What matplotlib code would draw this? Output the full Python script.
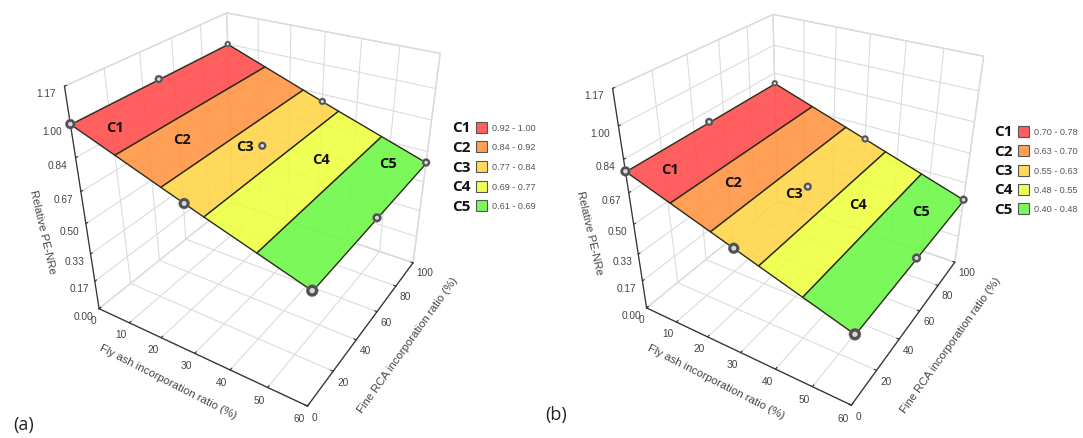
import numpy as np, matplotlib
matplotlib.use('Agg')
import matplotlib.pyplot as plt
from matplotlib.colors import to_rgb
from matplotlib.patches import Rectangle
from mpl_toolkits.mplot3d.art3d import Poly3DCollection

# ---------- data ----------
fly_ash_ticks = [0, 10, 20, 30, 40, 50, 60]
rca_ticks = [0, 20, 40, 60, 80, 100]
pe_ticks = [0.00, 0.17, 0.33, 0.50, 0.67, 0.84, 1.00, 1.17]
pe_tick_labels = ['0.00', '0.17', '0.33', '0.50', '0.67', '0.84', '1.00', '1.17']
point_fly_ash = [0, 30, 60]
point_rca = [0, 50, 100]
pe_a = [1.00, 0.80, 0.61]
pe_b = [0.78, 0.59, 0.40]
class_names = ['C1', 'C2', 'C3', 'C4', 'C5']
bounds_a = [1.00, 0.92, 0.84, 0.77, 0.69, 0.61]
bounds_b = [0.78, 0.70, 0.63, 0.55, 0.48, 0.40]
ranges_a = ['0.92 - 1.00', '0.84 - 0.92', '0.77 - 0.84', '0.69 - 0.77', '0.61 - 0.69']
ranges_b = ['0.70 - 0.78', '0.63 - 0.70', '0.55 - 0.63', '0.48 - 0.55', '0.40 - 0.48']

# ---------- style ----------
class_colors = ['#FF5F5F', '#FFA055', '#FFD95A', '#EFFF55', '#7CF95A']
surface_alpha = 0.88
marker_radius = [[5, 4, 3], [5.5, 4, 3.5], [6, 4.5, 4]]
FW, FH = 1083, 439
TXT = '#444444'
plt.rcParams['font.family'] = ['Liberation Sans', 'DejaVu Sans']
fig = plt.figure(figsize=(FW / 100, FH / 100), dpi=100)


def see_through(col):
    """Colour that, drawn with surface_alpha over white, gives col."""
    c = (np.array(to_rgb(col)) - (1 - surface_alpha)) / surface_alpha
    return (*np.clip(c, 0, 1), surface_alpha)


def panel(z_pts, bounds, ranges, view, box, class_xy, label_xy, leg, tag, tag_xy):
    left, bottom, size = box
    ax = fig.add_axes([left / FW, (FH - bottom) / FH, size / FW, size / FH], projection='3d')
    ax.patch.set_visible(False)
    ax.computed_zorder = False
    ax.set_xlim(0, 60, view_margin=0)
    ax.set_ylim(0, 100, view_margin=0)
    ax.set_zlim(0, 1.17, view_margin=0)
    ax.view_init(elev=view[0], azim=view[1], roll=view[2])
    ax.set_proj_type('persp', focal_length=view[3])
    ax.set_box_aspect((1, view[4], view[5]))
    ax.set_xticks(fly_ash_ticks)
    ax.set_yticks(rca_ticks)
    ax.set_zticks(pe_ticks)
    ax.set_zticklabels(pe_tick_labels)
    ax.zaxis.set_ticks_position('lower')
    for axis in (ax.xaxis, ax.yaxis, ax.zaxis):
        axis.set_pane_color((1, 1, 1, 1))
        axis.pane.set_edgecolor('#d5d5d5')
        axis._axinfo['grid'].update(color='#dcdcdc', linewidth=0.8)
        axis._axinfo['tick'].update(inward_factor=0.0, outward_factor=0.12, linewidth={True: 0.8, False: 0.6})
        axis.line.set_color('#333333')
        axis.line.set_linewidth(0.9)
    ax.tick_params(axis='x', labelsize=7.3, labelcolor=TXT, color='#333333', pad=-5)
    ax.tick_params(axis='y', labelsize=7.3, labelcolor=TXT, color='#333333', pad=-5)
    ax.tick_params(axis='z', labelsize=7.3, labelcolor=TXT, color='#333333', pad=-1)
    for lab in ax.get_xticklabels():
        lab.set_ha('right')
    for lab in ax.get_yticklabels():
        lab.set_ha('left')

    # axis titles
    for txt, (px, py), rot in zip(['Fly ash incorporation ratio (%)', 'Fine RCA incorporation ratio (%)', 'Relative PE-NRe'],
                                  label_xy, (-27, 54.4, -77)):
        fig.text(px / FW, 1 - py / FH, txt, fontsize=8.2, color=TXT, rotation=rot,
                 ha='center', va='center', rotation_mode='anchor')

    # surface bands: the plane runs linearly along fly ash, class limits give the band edges
    edge_x = np.interp(bounds[::-1], z_pts[::-1], point_fly_ash[::-1])[::-1]
    y0, y1 = point_rca[0], point_rca[-1]
    for i, col in enumerate(class_colors):
        xa, xb, za, zb = edge_x[i], edge_x[i + 1], bounds[i], bounds[i + 1]
        poly = Poly3DCollection([[(xa, y0, za), (xb, y0, zb), (xb, y1, zb), (xa, y1, za)]],
                                facecolors=[see_through(col)], edgecolors='#2c2c1c', linewidths=1.0,
                                zorder=3 + i * 0.01)
        ax.add_collection3d(poly)

    # measured points
    X, Y = np.meshgrid(point_fly_ash, point_rca, indexing='ij')
    Z = np.repeat(np.array(z_pts)[:, None], len(point_rca), axis=1)
    rad = np.array(marker_radius)
    ax.scatter(X.ravel(), Y.ravel(), Z.ravel(), s=(2 * rad.ravel() * 0.72) ** 2, c='#505050',
               edgecolors='#808080', linewidths=0.3, depthshade=False, zorder=5)
    ax.scatter(X.ravel(), Y.ravel(), Z.ravel(), s=(0.9 * rad.ravel() * 0.72) ** 2, c='#d8d8d8',
               linewidths=0, depthshade=False, zorder=6)

    # class names on the surface
    for name, (px, py) in zip(class_names, class_xy):
        fig.text(px / FW, 1 - py / FH, name, family='Open Sans', weight='bold', fontsize=10.5,
                 ha='center', va='center', color='#111111', zorder=10)
    # legend
    lx, sx, tx, ly, dy = leg
    for i, (name, col, rng) in enumerate(zip(class_names, class_colors, ranges)):
        y = ly + i * dy
        fig.text(lx / FW, 1 - y / FH, name, family='Open Sans', weight='bold', fontsize=11,
                 ha='left', va='center', color='#111111')
        fig.add_artist(Rectangle((sx / FW, 1 - (y + 5.5) / FH), 11 / FW, 11 / FH, transform=fig.transFigure,
                                 facecolor=col, edgecolor='#555555', linewidth=0.8))
        fig.text(tx / FW, 1 - y / FH, rng, fontsize=6.6, ha='left', va='center', color='#555555')
    fig.text(tag_xy[0] / FW, 1 - tag_xy[1] / FH, tag, family='Open Sans', fontsize=13,
             ha='center', va='center', color='#222222')
    return ax


panel(pe_a, bounds_a, ranges_a, (30.66, -57.81, 0.23, 0.316, 0.998, 1.004), (48.3, 401.6, 417.0),
      [(114.7, 128), (182.5, 140), (244.8, 147), (321, 160), (388.4, 164)],
      [(168.4, 382), (408, 345), (42.4, 232)],
      (452, 476, 492, 128.3, 19.6), '(a)', (24, 425))
panel(pe_b, bounds_b, ranges_b, (31.33, -58.18, -0.13, 0.313, 1.003, 1.013), (596.3, 400.0, 411.8),
      [(670, 170), (733, 183), (793.5, 194), (857.5, 205), (921, 212)],
      [(715.9, 381.7), (950.3, 345), (589.9, 233)],
      (994, 1018, 1034, 132.3, 19.4), '(b)', (556, 415))
fig.savefig('out.png', dpi=100)
